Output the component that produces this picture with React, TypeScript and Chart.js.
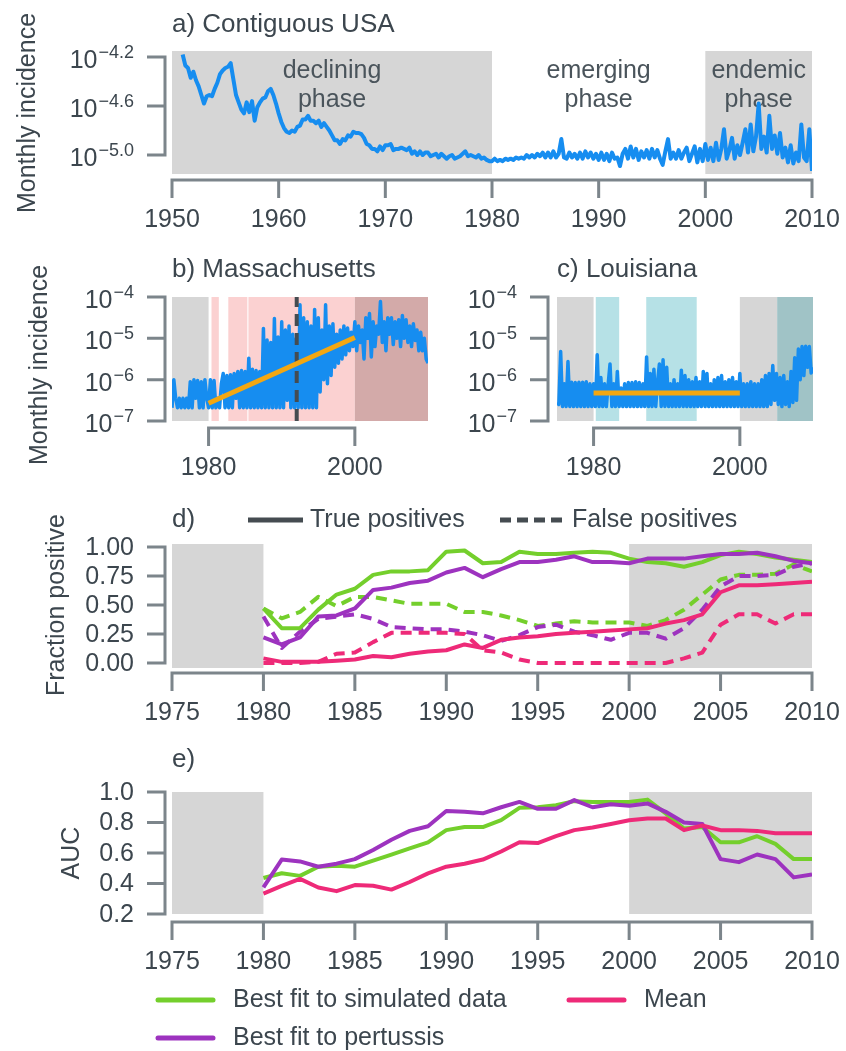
import React, { useEffect, useRef } from "react";
import { Chart, registerables } from "chart.js";

Chart.register(...registerables);

// ---------------- data ----------------
// a) Contiguous USA: log10 monthly incidence, quarterly samples from 1951.0
const usaFirstYear = 1951;
const usaLogIncidence = [
  -4.18, -4.27, -4.29, -4.37, // 1951
  -4.32, -4.39, -4.44, -4.51,
  -4.58, -4.52, -4.51, -4.52,
  -4.46, -4.41, -4.34, -4.31,
  -4.29, -4.28, -4.25, -4.38, // 1955
  -4.51, -4.57, -4.63, -4.66,
  -4.57, -4.65, -4.56, -4.72,
  -4.61, -4.57, -4.54, -4.53,
  -4.48, -4.46, -4.51, -4.58,
  -4.66, -4.73, -4.78, -4.81, // 1960
  -4.82, -4.80, -4.81, -4.77,
  -4.76, -4.71, -4.71, -4.68,
  -4.72, -4.72, -4.74, -4.72,
  -4.77, -4.74, -4.77, -4.80,
  -4.84, -4.88, -4.88, -4.91, // 1965
  -4.87, -4.88, -4.84, -4.85,
  -4.81, -4.82, -4.82, -4.83,
  -4.86, -4.91, -4.92, -4.95,
  -4.95, -4.97, -4.93, -4.96,
  -4.92, -4.92, -4.91, -4.96, // 1970
  -4.95, -4.95, -4.94, -4.95,
  -4.96, -4.94, -4.99, -4.97,
  -5.00, -4.97, -5.00, -4.98,
  -4.98, -5.01, -5.00, -4.99,
  -5.02, -4.99, -5.01, -5.03, // 1975
  -5.01, -5.00, -5.03, -5.02,
  -5.01, -4.99, -4.97, -5.01,
  -5.00, -5.01, -5.02, -5.00,
  -5.03, -5.02, -5.04, -5.05,
  -5.05, -5.03, -5.05, -5.04, // 1980
  -5.05, -5.03, -5.04, -5.03,
  -5.04, -5.02, -5.03, -5.02,
  -5.03, -5.00, -5.02, -5.00,
  -5.02, -4.99, -5.01, -4.98,
  -5.02, -4.98, -5.02, -4.97, // 1985
  -5.02, -4.99, -4.87, -5.02,
  -5.03, -4.98, -5.02, -4.99,
  -5.03, -4.98, -5.03, -4.97,
  -5.02, -4.98, -5.03, -4.99,
  -5.04, -4.98, -5.04, -4.99, // 1990
  -5.05, -4.98, -5.03, -5.02,
  -5.09, -4.99, -4.95, -5.03,
  -4.93, -5.02, -4.95, -5.04,
  -4.97, -5.02, -4.96, -5.03,
  -4.95, -5.02, -4.96, -5.03, // 1995
  -5.08, -4.97, -4.87, -5.03,
  -4.98, -5.03, -4.96, -5.03,
  -4.98, -4.94, -5.05, -4.99,
  -4.93, -5.06, -4.95, -5.05,
  -4.91, -5.04, -4.94, -5.05, // 2000
  -4.90, -5.04, -4.95, -4.79,
  -5.03, -4.96, -4.86, -5.03,
  -4.92, -5.00, -4.90, -4.79,
  -4.98, -4.75, -4.97, -4.85,
  -4.58, -4.95, -4.85, -4.98, // 2005
  -4.68, -4.95, -4.84, -4.99,
  -4.82, -5.02, -4.94, -5.06,
  -4.92, -5.07, -4.98, -5.05,
  -4.75, -5.02, -5.05, -4.79,
  -5.13, // 2010
];

// b) Massachusetts and c) Louisiana: log10 monthly incidence, quarterly from 1975.0
const stateFirstYear = 1975;
const maLogIncidence = [
  -6.68, -6.0, -6.45, -6.68, // 1975
  -6.45, -6.68, -6.45, -6.68,
  -6.45, -6.68, -6.05, -6.68,
  -6.0, -6.45, -6.02, -6.68,
  -6.05, -6.68, -6.0, -6.45,
  -6.68, -6.0, -6.68, -6.02, // 1980
  -6.68, -6.45, -6.68, -6.1,
  -5.85, -6.68, -5.9, -6.68,
  -5.88, -6.68, -5.85, -6.45,
  -5.8, -6.68, -5.78, -6.68,
  -5.8, -6.68, -5.48, -6.68, // 1985
  -5.75, -6.68, -5.78, -6.68,
  -5.8, -6.68, -4.76, -6.68,
  -5.04, -6.68, -5.1, -6.68,
  -4.52, -6.68, -4.97, -6.68,
  -4.6, -6.68, -4.8, -6.5, // 1990
  -4.7, -6.68, -4.9, -6.68,
  -5.0, -6.68, -4.19, -6.68,
  -4.5, -6.68, -4.6, -6.68,
  -4.7, -6.68, -4.3, -6.68,
  -4.5, -6.3, -4.8, -6.0, // 1995
  -4.19, -6.1, -4.7, -5.9,
  -4.65, -5.7, -4.9, -5.6,
  -4.8, -5.5, -4.7, -5.4,
  -4.75, -5.3, -4.85, -5.2,
  -4.6, -5.3, -4.7, -5.1, // 2000
  -4.8, -5.5, -4.5, -5.0,
  -4.4, -5.45, -4.6, -5.2,
  -4.7, -4.9, -4.11, -5.1,
  -4.6, -5.3, -4.5, -4.9,
  -4.5, -5.15, -4.6, -5.0, // 2005
  -4.55, -5.2, -4.45, -5.0,
  -4.55, -5.1, -4.7, -5.2,
  -4.65, -5.05, -4.8, -5.3,
  -4.85, -5.3, -5.0, -5.5,
  -5.6, // 2010
];
const laLogIncidence = [
  -6.55, -6.6, -5.32, -6.65, // 1975
  -6.1, -6.65, -5.56, -6.65,
  -6.06, -6.65, -6.07, -6.65,
  -6.06, -6.65, -6.06, -6.65,
  -6.05, -6.65, -6.1, -6.65,
  -6.1, -6.65, -5.4, -6.65, // 1980
  -5.95, -6.65, -6.1, -6.65,
  -6.1, -5.62, -6.65, -6.1,
  -6.65, -5.8, -6.65, -6.2,
  -6.65, -6.1, -6.65, -6.07,
  -6.65, -6.07, -6.65, -6.05, // 1985
  -6.65, -6.07, -6.65, -6.1,
  -6.65, -5.45, -6.65, -5.85,
  -6.65, -5.75, -6.65, -6.05,
  -5.62, -6.65, -5.52, -6.65,
  -5.7, -6.65, -6.1, -6.65, // 1990
  -6.0, -6.65, -6.1, -6.65,
  -5.77, -6.65, -5.9, -6.65,
  -6.0, -6.65, -6.05, -6.65,
  -5.95, -6.65, -6.05, -6.65,
  -5.8, -6.65, -5.85, -6.65, // 1995
  -6.1, -6.65, -6.0, -6.65,
  -5.95, -6.65, -5.9, -6.65,
  -6.05, -6.65, -6.0, -6.65,
  -5.95, -6.65, -6.05, -6.65,
  -5.85, -6.65, -6.1, -6.65, // 2000
  -6.1, -6.65, -6.05, -6.65,
  -6.1, -6.65, -6.1, -6.65,
  -6.0, -6.65, -5.9, -6.65,
  -5.85, -6.6, -5.66, -6.5,
  -5.85, -6.6, -5.95, -6.65, // 2005
  -5.9, -6.6, -6.05, -6.65,
  -5.8, -6.55, -5.47, -6.5,
  -5.26, -6.0, -5.2, -5.9,
  -5.19, -5.7, -5.2, -5.84,
  -5.7, // 2010
];
const maTrendYears = [1980, 2000];
const maTrendLog = [-6.57, -4.98];
const laTrendYears = [1980, 2000];
const laTrendLog = [-6.32, -6.32];
const maChangeYear = [1992.05];

// d) and e): yearly values
const fitYears = [
  1980, 1981, 1982, 1983, 1984, 1985, 1986, 1987, 1988, 1989, 1990,
  1991, 1992, 1993, 1994, 1995, 1996, 1997, 1998, 1999, 2000,
  2001, 2002, 2003, 2004, 2005, 2006, 2007, 2008, 2009, 2010,
];
const tpSimulated = [0.47, 0.30, 0.30, 0.46, 0.59, 0.64, 0.76, 0.79, 0.79, 0.80, 0.96, 0.97, 0.86, 0.87, 0.96, 0.94, 0.94, 0.95, 0.96, 0.95, 0.90, 0.87, 0.86, 0.83, 0.87, 0.93, 0.96, 0.94, 0.91, 0.89, 0.87];
const tpPertussis = [0.22, 0.16, 0.22, 0.40, 0.41, 0.47, 0.63, 0.65, 0.69, 0.71, 0.78, 0.82, 0.74, 0.81, 0.87, 0.87, 0.89, 0.92, 0.87, 0.87, 0.86, 0.90, 0.90, 0.90, 0.92, 0.94, 0.94, 0.95, 0.92, 0.88, 0.86];
const tpMean = [0.04, 0.01, 0.01, 0.01, 0.02, 0.03, 0.06, 0.05, 0.08, 0.10, 0.11, 0.16, 0.13, 0.20, 0.22, 0.23, 0.25, 0.26, 0.27, 0.28, 0.29, 0.30, 0.34, 0.37, 0.42, 0.61, 0.67, 0.67, 0.68, 0.69, 0.70];
const fpSimulated = [0.47, 0.385, 0.44, 0.57, 0.49, 0.57, 0.57, 0.54, 0.51, 0.51, 0.51, 0.44, 0.44, 0.41, 0.37, 0.32, 0.34, 0.36, 0.35, 0.35, 0.35, 0.32, 0.37, 0.46, 0.59, 0.72, 0.76, 0.76, 0.77, 0.85, 0.79];
const fpPertussis = [0.40, 0.13, 0.27, 0.38, 0.40, 0.42, 0.38, 0.31, 0.30, 0.29, 0.29, 0.27, 0.24, 0.19, 0.24, 0.31, 0.33, 0.27, 0.24, 0.20, 0.26, 0.26, 0.21, 0.30, 0.46, 0.66, 0.75, 0.75, 0.76, 0.83, 0.86];
const fpMean = [0.0, 0.0, 0.0, 0.01, 0.08, 0.09, 0.18, 0.26, 0.26, 0.26, 0.26, 0.25, 0.11, 0.09, 0.03, 0.0, 0.0, 0.0, 0.0, 0.0, 0.0, 0.0, 0.0, 0.04, 0.09, 0.33, 0.42, 0.42, 0.34, 0.42, 0.42];
const aucSimulated = [0.436, 0.467, 0.45, 0.51, 0.517, 0.51, 0.55, 0.59, 0.63, 0.67, 0.75, 0.77, 0.77, 0.815, 0.896, 0.90, 0.914, 0.94, 0.935, 0.935, 0.935, 0.95, 0.86, 0.76, 0.77, 0.67, 0.67, 0.71, 0.66, 0.56, 0.56];
const aucPertussis = [0.374, 0.557, 0.545, 0.51, 0.53, 0.56, 0.62, 0.687, 0.745, 0.775, 0.875, 0.87, 0.86, 0.90, 0.935, 0.89, 0.89, 0.947, 0.90, 0.92, 0.91, 0.925, 0.87, 0.80, 0.79, 0.56, 0.54, 0.59, 0.56, 0.44, 0.46];
const aucMean = [0.334, 0.385, 0.43, 0.374, 0.35, 0.39, 0.385, 0.36, 0.41, 0.466, 0.51, 0.53, 0.557, 0.61, 0.67, 0.665, 0.71, 0.75, 0.767, 0.79, 0.815, 0.826, 0.826, 0.75, 0.78, 0.75, 0.75, 0.745, 0.73, 0.73, 0.73];

// ticks
const usaTickExponents = [-5.0, -4.6, -4.2];
const stateTickExponents = [-7, -6, -5, -4];
const fractionTicks = [0, 0.25, 0.5, 0.75, 1.0];
const aucTicks = [0.2, 0.4, 0.6, 0.8, 1.0];
const usaYearTicks = [1950, 1960, 1970, 1980, 1990, 2000, 2010];
const stateYearTicks = [1980, 2000];
const fitYearTicks = [1975, 1980, 1985, 1990, 1995, 2000, 2005, 2010];

// phases / regimes
const phaseNames = ["declining", "emerging", "endemic"];
const phaseCentres = [1965, 1990, 2005];
const usaShadedFrom = [1950, 2000];
const usaShadedTo = [1980, 2010];
const maRegimeFrom = [1975, 1980.4, 1982.7, 1985.45, 2000];
const maRegimeTo = [1980, 1981.4, 1985.3, 2000, 2010];
const laRegimeFrom = [1975, 1980.3, 1987.2, 2000, 2005.1];
const laRegimeTo = [1980, 1983.5, 1994.1, 2005.1, 2010];
const fitShadedFrom = [1975, 2000];
const fitShadedTo = [1980, 2010];

// ---------------- style ----------------
const FONT = '"Liberation Sans", Arial, Helvetica, sans-serif';
const FS = 25;
const TITLE_FS = 26;
const SUP_FS = 18;
const TEXT = "#3c464e";
const SPINE = "#7c858b";
const TICK = 18;
const GRAY = "#d6d6d6";
const PINK = "#fbd1d1";
const ROSE = "#d3aaa9";
const TEAL = "#b6e1e6";
const DTEAL = "#a0c3c6";
const BLUE = "#168df0";
const ORANGE = "#f3a712";
const GREEN = "#74cf2c";
const PURPLE = "#9d33bf";
const MAGENTA = "#ee2a78";
const DARK = "#454c51";

type Band = { from: number; to: number; color: string };
type Label = { base: string; sup?: string };
type Deco = {
  bands: Band[];
  xTicks: number[];
  xSpineY: number;
  yTicks: number[];
  yLabels: Label[];
  ySpineX: number;
  title: string;
  titleX: number;
  titleY: number;
  yTitle?: string;
  yTitleX?: number;
  yTitleY?: number;
  under?: (chart: any) => void;
  over?: (chart: any) => void;
};

const minus = (s: string) => s.replace("-", "\u2212");

function decoPlugin(d: Deco) {
  return {
    id: "deco",
    beforeDatasetsDraw(chart: any) {
      const { ctx, chartArea: a, scales } = chart;
      ctx.save();
      for (const b of d.bands) {
        const x0 = scales.x.getPixelForValue(b.from);
        const x1 = scales.x.getPixelForValue(b.to);
        ctx.fillStyle = b.color;
        ctx.fillRect(x0, a.top, x1 - x0, a.bottom - a.top);
      }
      ctx.restore();
      if (d.under) d.under(chart);
    },
    afterDraw(chart: any) {
      const { ctx, scales } = chart;
      const xs = scales.x;
      const ys = scales.y;
      const yp = d.yTicks.map((v) => ys.getPixelForValue(v));
      const xp = d.xTicks.map((v) => xs.getPixelForValue(v));
      ctx.save();
      ctx.strokeStyle = SPINE;
      ctx.lineWidth = 3;
      ctx.setLineDash([]);
      ctx.beginPath();
      ctx.moveTo(d.ySpineX, Math.min(...yp) - 1.5);
      ctx.lineTo(d.ySpineX, Math.max(...yp) + 1.5);
      yp.forEach((p) => {
        ctx.moveTo(d.ySpineX - TICK, p);
        ctx.lineTo(d.ySpineX, p);
      });
      ctx.moveTo(Math.min(...xp) - 1.5, d.xSpineY);
      ctx.lineTo(Math.max(...xp) + 1.5, d.xSpineY);
      xp.forEach((p) => {
        ctx.moveTo(p, d.xSpineY);
        ctx.lineTo(p, d.xSpineY + TICK);
      });
      ctx.stroke();

      ctx.fillStyle = TEXT;
      ctx.font = `${FS}px ${FONT}`;
      ctx.textAlign = "center";
      ctx.textBaseline = "middle";
      xp.forEach((p, i) => ctx.fillText(String(d.xTicks[i]), p, d.xSpineY + 40));

      const rx = d.ySpineX - TICK - 13;
      yp.forEach((p, i) => {
        const lab = d.yLabels[i];
        if (!lab.sup) {
          ctx.font = `${FS}px ${FONT}`;
          ctx.textAlign = "right";
          ctx.textBaseline = "middle";
          ctx.fillText(lab.base, rx, p + 1);
        } else {
          ctx.font = `${FS}px ${FONT}`;
          const wb = ctx.measureText(lab.base).width;
          ctx.font = `${SUP_FS}px ${FONT}`;
          const ws = ctx.measureText(lab.sup).width;
          const x0 = rx - wb - ws - 1;
          ctx.textAlign = "left";
          ctx.textBaseline = "alphabetic";
          ctx.font = `${FS}px ${FONT}`;
          ctx.fillText(lab.base, x0, p + 11);
          ctx.font = `${SUP_FS}px ${FONT}`;
          ctx.fillText(lab.sup, x0 + wb + 1, p + 1);
        }
      });

      ctx.font = `${TITLE_FS}px ${FONT}`;
      ctx.textAlign = "left";
      ctx.textBaseline = "middle";
      ctx.fillText(d.title, d.titleX, d.titleY);

      if (d.yTitle) {
        ctx.save();
        ctx.translate(d.yTitleX!, d.yTitleY!);
        ctx.rotate(-Math.PI / 2);
        ctx.font = `${FS}px ${FONT}`;
        ctx.textAlign = "center";
        ctx.textBaseline = "middle";
        ctx.fillText(d.yTitle, 0, 0);
        ctx.restore();
      }
      ctx.restore();
      if (d.over) d.over(chart);
    },
  };
}

function baseOptions(pad: any, xr: number[], y: any) {
  return {
    animation: false,
    responsive: false,
    devicePixelRatio: 1,
    events: [],
    layout: { padding: pad, autoPadding: false },
    plugins: { legend: { display: false }, tooltip: { enabled: false }, title: { display: false } },
    scales: {
      x: { type: "linear", min: xr[0], max: xr[1], display: false, bounds: "data" },
      y: { type: y.type, min: y.min, max: y.max, display: false, bounds: "data" },
    },
    elements: {
      point: { radius: 0 },
      line: { tension: 0, borderJoinStyle: "round", borderCapStyle: "butt" },
    },
  };
}

const bandsFrom = (from: number[], to: number[], colors: string[]): Band[] =>
  from.map((f, i) => ({ from: f, to: to[i], color: colors[i] }));

const expLabels = (exps: number[], digits: number): Label[] =>
  exps.map((e) => ({ base: "10", sup: minus(e.toFixed(digits)) }));

// ---------------- panels ----------------
function buildUSA(canvas: HTMLCanvasElement) {
  const pts = usaLogIncidence.map((v, i) => ({ x: usaFirstYear + i / 4, y: Math.pow(10, v) }));
  return new Chart(canvas as any, {
    type: "line",
    data: { datasets: [{ data: pts, borderColor: BLUE, borderWidth: 4, pointRadius: 0 }] },
    options: baseOptions(
      { left: 172, right: 34, top: 51, bottom: 66 },
      [1950, 2010],
      { type: "logarithmic", min: Math.pow(10, -5.155), max: Math.pow(10, -4.151) }
    ) as any,
    plugins: [
      decoPlugin({
        bands: bandsFrom(usaShadedFrom, usaShadedTo, [GRAY, GRAY]),
        xTicks: usaYearTicks,
        xSpineY: 180,
        yTicks: usaTickExponents.map((e) => Math.pow(10, e)),
        yLabels: expLabels(usaTickExponents, 1),
        ySpineX: 165,
        title: "a) Contiguous USA",
        titleX: 172,
        titleY: 25,
        yTitle: "Monthly incidence",
        yTitleX: 28,
        yTitleY: 113,
        under: (chart: any) => {
          const { ctx, scales } = chart;
          ctx.save();
          ctx.fillStyle = "#4a545b";
          ctx.font = `${FS}px ${FONT}`;
          ctx.textAlign = "center";
          ctx.textBaseline = "middle";
          phaseNames.forEach((n, i) => {
            const px = scales.x.getPixelForValue(phaseCentres[i]);
            ctx.fillText(n, px, 71);
            ctx.fillText("phase", px, 100);
          });
          ctx.restore();
        },
      }) as any,
    ],
  });
}

function buildState(
  canvas: HTMLCanvasElement,
  logs: number[],
  trendYears: number[],
  trendLog: number[],
  bands: Band[],
  title: string,
  pad: any,
  ySpineX: number,
  withYTitle: boolean,
  changeYears: number[]
) {
  const pts = logs.map((v, i) => ({ x: stateFirstYear + i / 4, y: Math.pow(10, v) }));
  const trend = trendYears.map((x, i) => ({ x, y: Math.pow(10, trendLog[i]) }));
  const datasets: any[] = [
    { data: trend, borderColor: ORANGE, borderWidth: 5, pointRadius: 0 },
  ];
  changeYears.forEach((cy) =>
    datasets.push({
      data: [
        { x: cy, y: 1e-7 },
        { x: cy, y: 1e-4 },
      ],
      borderColor: DARK,
      borderWidth: 4,
      borderDash: [12, 7],
      pointRadius: 0,
    })
  );
  datasets.push({ data: pts, borderColor: BLUE, borderWidth: 3.5, pointRadius: 0 });
  return new Chart(canvas as any, {
    type: "line",
    data: { datasets },
    options: baseOptions(pad, [1975, 2010], { type: "logarithmic", min: 1e-7, max: 1e-4 }) as any,
    plugins: [
      decoPlugin({
        bands,
        xTicks: stateYearTicks,
        xSpineY: 188,
        yTicks: stateTickExponents.map((e) => Math.pow(10, e)),
        yLabels: expLabels(stateTickExponents, 0),
        ySpineX,
        title,
        titleX: pad.left,
        titleY: 30,
        yTitle: withYTitle ? "Monthly incidence" : undefined,
        yTitleX: 40,
        yTitleY: 125,
      }) as any,
    ],
  });
}

const series = (vals: number[], color: string, dashed: boolean) => ({
  data: fitYears.map((x, i) => ({ x, y: vals[i] })),
  borderColor: color,
  borderWidth: 4,
  borderDash: dashed ? [11, 7] : [],
  pointRadius: 0,
});

function buildFraction(canvas: HTMLCanvasElement) {
  return new Chart(canvas as any, {
    type: "line",
    data: {
      datasets: [
        series(tpMean, MAGENTA, false),
        series(tpPertussis, PURPLE, false),
        series(tpSimulated, GREEN, false),
        series(fpMean, MAGENTA, true),
        series(fpPertussis, PURPLE, true),
        series(fpSimulated, GREEN, true),
      ],
    },
    options: baseOptions(
      { left: 172, right: 34, top: 64, bottom: 62 },
      [1975, 2010],
      { type: "linear", min: -0.043, max: 1.026 }
    ) as any,
    plugins: [
      decoPlugin({
        bands: bandsFrom(fitShadedFrom, fitShadedTo, [GRAY, GRAY]),
        xTicks: fitYearTicks,
        xSpineY: 193,
        yTicks: fractionTicks,
        yLabels: fractionTicks.map((v) => ({ base: v.toFixed(2) })),
        ySpineX: 165,
        title: "d)",
        titleX: 172,
        titleY: 40,
        yTitle: "Fraction positive",
        yTitleX: 57,
        yTitleY: 125,
        over: (chart: any) => {
          const { ctx } = chart;
          ctx.save();
          ctx.strokeStyle = DARK;
          ctx.lineWidth = 5;
          ctx.beginPath();
          ctx.moveTo(248, 40);
          ctx.lineTo(303, 40);
          ctx.stroke();
          ctx.setLineDash([11, 6]);
          ctx.beginPath();
          ctx.moveTo(500, 40);
          ctx.lineTo(566, 40);
          ctx.stroke();
          ctx.setLineDash([]);
          ctx.fillStyle = TEXT;
          ctx.font = `${FS}px ${FONT}`;
          ctx.textAlign = "left";
          ctx.textBaseline = "middle";
          ctx.fillText("True positives", 310, 40);
          ctx.fillText("False positives", 572, 40);
          ctx.restore();
        },
      }) as any,
    ],
  });
}

function buildAUC(canvas: HTMLCanvasElement) {
  return new Chart(canvas as any, {
    type: "line",
    data: {
      datasets: [
        series(aucMean, MAGENTA, false),
        series(aucPertussis, PURPLE, false),
        series(aucSimulated, GREEN, false),
      ],
    },
    options: baseOptions(
      { left: 172, right: 34, top: 62, bottom: 137 },
      [1975, 2010],
      { type: "linear", min: 0.2, max: 1.0 }
    ) as any,
    plugins: [
      decoPlugin({
        bands: bandsFrom(fitShadedFrom, fitShadedTo, [GRAY, GRAY]),
        xTicks: fitYearTicks,
        xSpineY: 192,
        yTicks: aucTicks,
        yLabels: aucTicks.map((v) => ({ base: v.toFixed(1) })),
        ySpineX: 165,
        title: "e)",
        titleX: 172,
        titleY: 30,
        yTitle: "AUC",
        yTitleX: 72,
        yTitleY: 123,
        over: (chart: any) => {
          const { ctx } = chart;
          const items = [
            { label: "Best fit to simulated data", color: GREEN, x: 158, y: 270 },
            { label: "Mean", color: MAGENTA, x: 569, y: 270 },
            { label: "Best fit to pertussis", color: PURPLE, x: 158, y: 308 },
          ];
          ctx.save();
          ctx.lineWidth = 5;
          ctx.lineCap = "round";
          ctx.font = `${FS}px ${FONT}`;
          ctx.textAlign = "left";
          ctx.textBaseline = "middle";
          items.forEach((it) => {
            ctx.strokeStyle = it.color;
            ctx.beginPath();
            ctx.moveTo(it.x, it.y);
            ctx.lineTo(it.x + 55, it.y);
            ctx.stroke();
            ctx.fillStyle = TEXT;
            ctx.fillText(it.label, it.x + 75, it.y);
          });
          ctx.restore();
        },
      }) as any,
    ],
  });
}

function Panel(props: {
  left: number;
  top: number;
  width: number;
  height: number;
  build: (c: HTMLCanvasElement) => Chart;
}) {
  const ref = useRef<HTMLCanvasElement>(null);
  useEffect(() => {
    const chart = props.build(ref.current!);
    return () => chart.destroy();
  }, []);
  return (
    <canvas
      ref={ref}
      width={props.width}
      height={props.height}
      style={{
        position: "absolute",
        left: props.left,
        top: props.top,
        width: props.width,
        height: props.height,
      }}
    />
  );
}

export default function App() {
  return (
    <div
      style={{
        position: "absolute",
        left: 0,
        top: 0,
        width: 846,
        height: 1051,
        background: "#ffffff",
        overflow: "hidden",
      }}
    >
      <Panel left={0} top={0} width={846} height={240} build={buildUSA} />
      <Panel
        left={0}
        top={240}
        width={440}
        height={240}
        build={(c) =>
          buildState(
            c,
            maLogIncidence,
            maTrendYears,
            maTrendLog,
            bandsFrom(maRegimeFrom, maRegimeTo, [GRAY, PINK, PINK, PINK, ROSE]),
            "b) Massachusetts",
            { left: 172, right: 12, top: 57, bottom: 59 },
            165,
            true,
            maChangeYear
          )
        }
      />
      <Panel
        left={440}
        top={240}
        width={406}
        height={240}
        build={(c) =>
          buildState(
            c,
            laLogIncidence,
            laTrendYears,
            laTrendLog,
            bandsFrom(laRegimeFrom, laRegimeTo, [GRAY, TEAL, TEAL, GRAY, DTEAL]),
            "c) Louisiana",
            { left: 117, right: 33, top: 57, bottom: 59 },
            108,
            false,
            []
          )
        }
      />
      <Panel left={0} top={480} width={846} height={250} build={buildFraction} />
      <Panel left={0} top={730} width={846} height={321} build={buildAUC} />
    </div>
  );
}
